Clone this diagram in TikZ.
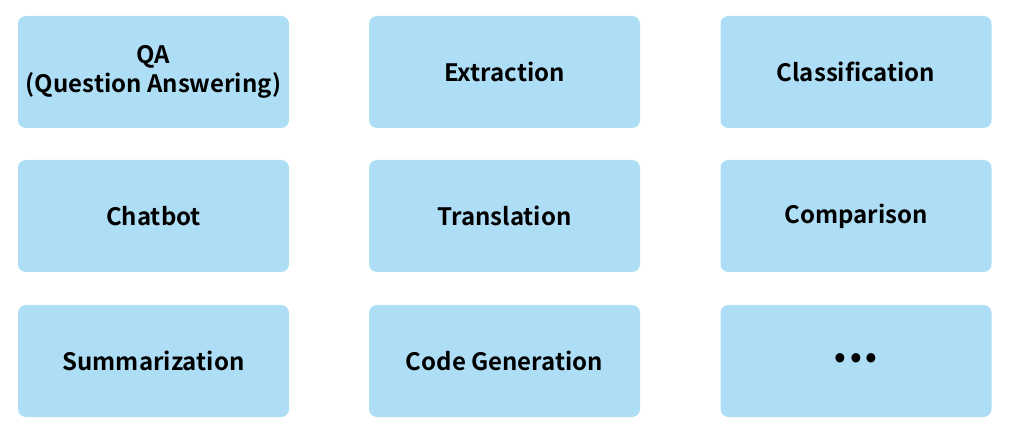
\documentclass[tikz,border=0pt]{standalone}
\usepackage{fontspec}
\setmainfont{Noto Sans CJK KR}[BoldFont={Noto Sans CJK KR Bold}]
\definecolor{boxblue}{HTML}{ADDEF6}
\begin{document}
\begin{tikzpicture}[x=1pt,y=-1pt,
  taskbox/.style={fill=boxblue, draw=none, rounded corners=8pt, minimum width=271pt, minimum height=112pt, inner sep=0pt, font=\bfseries\fontsize{24}{28.5}\selectfont, align=center, text=black}]
\useasboundingbox (0,0) rectangle (1011,435);
\node[taskbox] (qa) at (153.5,72) {QA\\(Question Answering)};
\node[taskbox] (ext) at (504.5,72) {Extraction};
\node[taskbox] (cls) at (856,72) {Classification};
\node[taskbox] (chat) at (153.5,216) {Chatbot};
\node[taskbox] (tr) at (504.5,216) {Translation};
\node[taskbox] (cmp) at (856,216) {Comparison};
\node[taskbox] (sum) at (153.5,361) {Summarization};
\node[taskbox] (code) at (504.5,361) {Code Generation};
\node[taskbox] (more) at (856,361) {\fontsize{31}{31}\selectfont\raisebox{-2.5pt}{•\kern3.5pt•\kern3.5pt•}};
\end{tikzpicture}
\end{document}
